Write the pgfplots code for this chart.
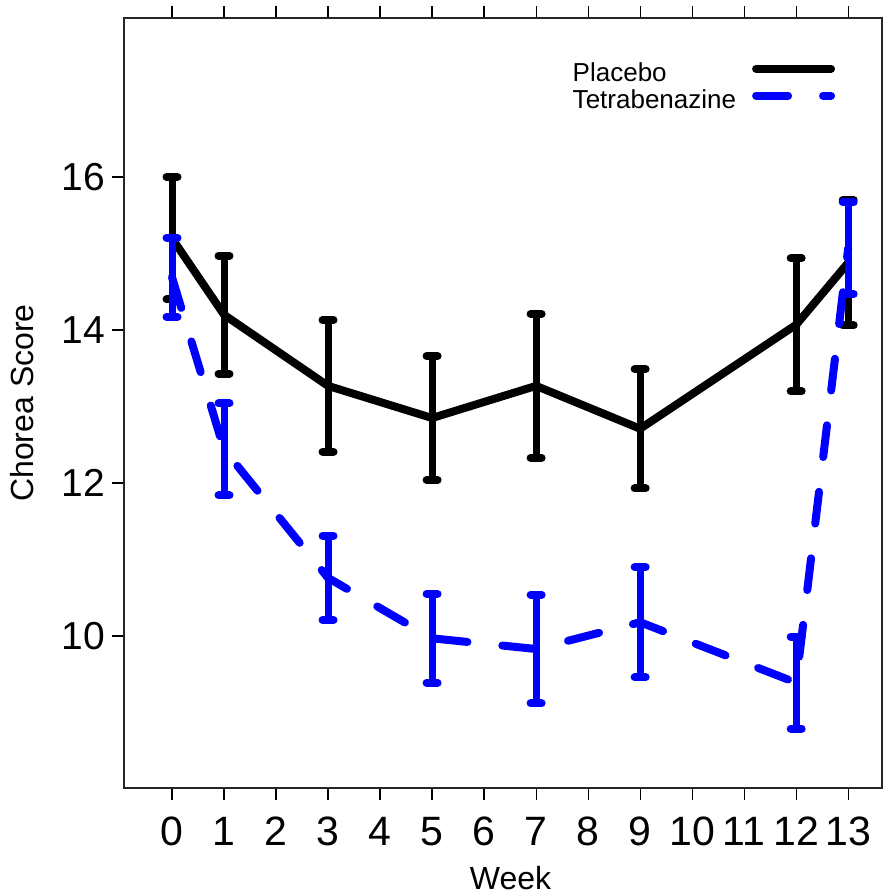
\documentclass[border=0pt]{standalone}
\usepackage{fontspec}
\setmainfont{Liberation Sans}
\usepackage{pgfplots}
\pgfplotsset{compat=1.18}
\usepackage{pgfplotstable}
\usetikzlibrary{calc}

\definecolor{tbzblue}{RGB}{0,0,255}

% week, mean chorea score, standard error
\pgfplotstableread{
week mean err
0  15.20 0.80
1  14.20 0.77
3  13.27 0.86
5  12.85 0.81
7  13.27 0.94
9  12.71 0.78
12 14.07 0.87
13 14.88 0.82
}\placebo

\pgfplotstableread{
week mean err
0  14.69 0.52
1  12.44 0.60
3  10.76 0.55
5  9.97  0.58
7  9.83  0.71
9  10.18 0.72
12 9.39  0.60
13 15.07 0.60
}\tetra

\begin{document}
\begin{tikzpicture}
\begin{axis}[
  scale only axis,
  width=379bp, height=385bp,
  xmin=-0.923, xmax=13.65,
  ymin=8.013, ymax=18.08,
  xtick={0,1,...,13},
  ytick={10,12,14,16},
  xtick pos=both,
  ytick pos=left,
  tick align=outside,
  major tick length=6bp,
  every tick/.style={black, line width=0.6bp},
  axis line style={line width=0.8bp, black!85},
  /pgf/number format/assume math mode=true,
  yticklabel style={font=\fontsize{19.5bp}{21bp}\selectfont},
  xticklabel style={font=\fontsize{20.5bp}{22bp}\selectfont, yshift=-5bp},
  xlabel={Week},
  ylabel={Chorea Score},
  label style={font=\fontsize{16bp}{18bp}\selectfont},
  xlabel style={at={(rel axis cs:0.51,0)}, anchor=base, yshift=-50.5bp},
  ylabel style={at={(rel axis cs:-0.1346,0.5)}, anchor=center, rotate=0},
  legend cell align=left,
  legend plot pos=right,
  legend image code/.code={\draw[#1] (0bp,0.3em) -- (37.5bp,0.3em);},
  legend style={draw=none, fill=none, at={(rel axis cs:0.592,0.944)}, anchor=north west,
    inner sep=0pt, outer sep=0pt, row sep=0pt, column sep=8bp,
    font=\fontsize{13bp}{13.5bp}\selectfont,
    nodes={inner sep=0pt, text height=10bp, text depth=3.5bp}},
]
\coordinate (ll) at (rel axis cs:0,0);
\coordinate (ur) at (rel axis cs:1,1);

\addplot[black, line width=4bp, line join=round, line cap=round,
  error bars/.cd, y dir=both, y explicit,
  error bar style={solid, line width=3.5bp, line cap=round},
  error mark options={solid, line width=4bp, line cap=round, mark size=2.75bp, rotate=90}]
  table[x=week, y=mean, y error=err] {\placebo};
\addlegendentry{Placebo}

\addplot[tbzblue, line width=4bp, line cap=round, dash pattern=on 16bp off 17.5bp,
  error bars/.cd, y dir=both, y explicit,
  error bar style={solid, line width=3.5bp, line cap=round},
  error mark options={solid, line width=4bp, line cap=round, mark size=2.75bp, rotate=90}]
  table[x=week, y=mean, y error=err] {\tetra};
\addlegendentry{Tetrabenazine}
\end{axis}
\pgfresetboundingbox
\path ($(ll)+(-62bp,-53.5bp)$) rectangle ($(ur)+(7bp,9bp)$);
\end{tikzpicture}
\end{document}
